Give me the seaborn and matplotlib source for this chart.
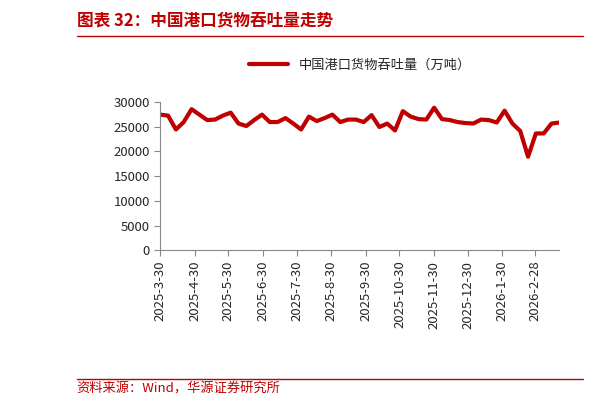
import pandas as pd
import numpy as np
import matplotlib.pyplot as plt
import seaborn as sns

sns.set_style("white")
plt.rcParams['font.family'] = ['Noto Sans CJK SC', 'DejaVu Sans']

# weekly throughput, 10k tonnes
values = [27.4, 27.2, 24.4, 25.9, 28.5, 27.4, 26.3, 26.4, 27.2, 27.8,
          25.6, 25.1, 26.3, 27.4, 25.9, 25.9, 26.7, 25.6, 24.4, 27.0,
          26.1, 26.7, 27.4, 25.9, 26.4, 26.4, 25.9, 27.3, 24.9, 25.6,
          24.2, 28.1, 27.0, 26.5, 26.4, 28.8, 26.5, 26.3, 25.9, 25.7,
          25.6, 26.4, 26.3, 25.8, 28.2, 25.6, 24.1, 18.9, 23.6, 23.6,
          25.6, 25.8]
dates = pd.date_range("2025-03-30", periods=len(values), freq="7D")
tick_dates = ["2025-03-30", "2025-04-30", "2025-05-30", "2025-06-30", "2025-07-30",
              "2025-08-30", "2025-09-30", "2025-10-30", "2025-11-30", "2025-12-30",
              "2026-01-30", "2026-02-28"]
tick_labels = ["2025-3-30", "2025-4-30", "2025-5-30", "2025-6-30", "2025-7-30",
               "2025-8-30", "2025-9-30", "2025-10-30", "2025-11-30", "2025-12-30",
               "2026-1-30", "2026-2-28"]

df = pd.DataFrame({"date": dates, "v": np.array(values) * 1000})

fig = plt.figure(figsize=(6.14, 4.07), dpi=100)
ax = fig.add_axes([0.261, 0.385, 0.65, 0.365])
sns.lineplot(data=df, x="date", y="v", ax=ax, color="#C00000", linewidth=3,
             label="中国港口货物吞吐量（万吨）")

ax.set_ylim(0, 30000)
ax.set_yticks(range(0, 30001, 5000))
ax.set_xlim(dates[0], dates[-1])
ax.set_xticks(pd.to_datetime(tick_dates))
ax.set_xticklabels(tick_labels, rotation=90, fontsize=9.5)
ax.tick_params(axis="y", labelsize=9.5, length=4, direction="out", left=True, color="#888888")
ax.tick_params(axis="x", length=4, direction="out", bottom=True, color="#888888")
ax.set_xlabel("")
ax.set_ylabel("")
for s in ["top", "right"]:
    ax.spines[s].set_visible(False)
for s in ["left", "bottom"]:
    ax.spines[s].set_color("#888888")

ax.legend(loc="lower center", bbox_to_anchor=(0.5, 1.12), frameon=False,
          fontsize=9.5, handlelength=3)

fig.text(0.125, 0.95, "图表 32：中国港口货物吞吐量走势", color="#C00000",
         fontsize=12, fontweight="bold", va="center")
fig.add_artist(plt.Line2D([0.125, 0.95], [0.912, 0.912], color="#C00000", lw=1))
fig.add_artist(plt.Line2D([0.125, 0.95], [0.07, 0.07], color="#C00000", lw=1))
fig.text(0.125, 0.045, "资料来源：Wind，华源证券研究所", color="#C00000",
         fontsize=9.5, va="center")

fig.savefig("out.png", dpi=100)
